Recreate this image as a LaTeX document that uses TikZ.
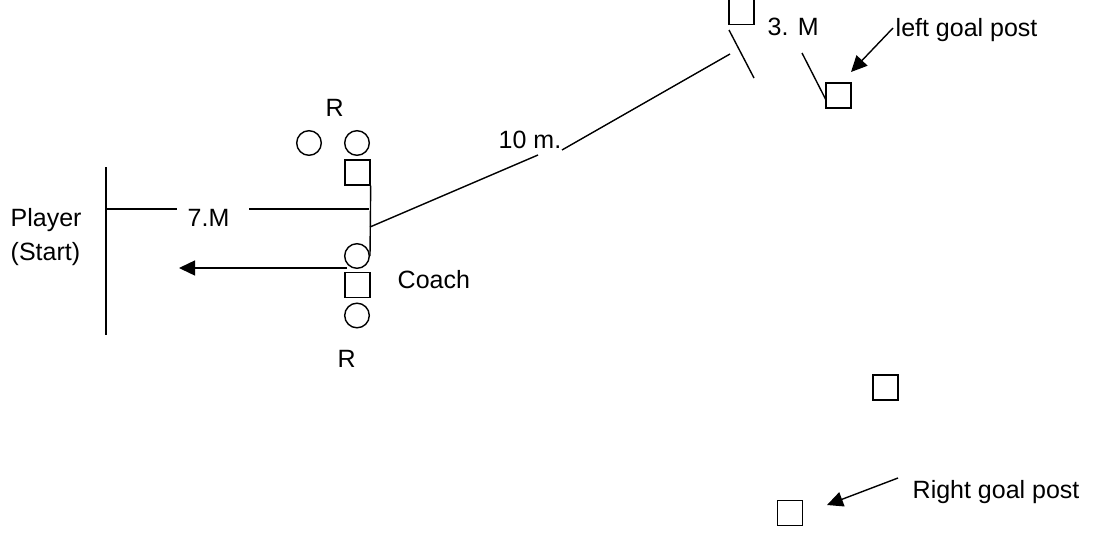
\documentclass[tikz,border=0pt]{standalone}
\usepackage{fontspec}
\setmainfont{Liberation Sans}
\usetikzlibrary{arrows.meta}
\begin{document}
\begin{tikzpicture}[x=1pt,y=-1pt,
  line width=1.4pt,
  cone/.style={draw,rectangle,minimum size=25pt,inner sep=0pt,line width=1.4pt},
  ring/.style={draw,circle,minimum size=24.6pt,inner sep=0pt,line width=1.4pt},
  lbl/.style={inner sep=0pt,anchor=base west,font=\fontsize{25pt}{30pt}\selectfont},
  tip/.style={-{Triangle[length=16pt,width=15pt]}}]
\useasboundingbox (0,0) rectangle (1096,535);

% start line and labels
\coordinate (st1) at (106,167);
\coordinate (st2) at (106,335);
\draw (st1) -- (st2);
\node[lbl] (player) at (10,226) {Player};
\node[lbl] (start) at (10,260) {(Start)};

% cones and rings at the coach station
\node[ring] (r1) at (309,143) {};
\node[ring] (r2) at (357,143) {};
\node[cone] (c1) at (357.5,172.5) {};
\node[ring] (r3) at (357,256) {};
\node[cone] (c2) at (357.5,285) {};
\node[ring] (r4) at (357,315.5) {};
\node[lbl] (rtop) at (325,117) {R};
\node[lbl] (rbot) at (337,367) {R};
\node[lbl] (coach) at (397,288) {Coach};

% 7 m distance
\coordinate (h1) at (106,209);
\coordinate (h2) at (177,209);
\coordinate (h3) at (249,209);
\coordinate (h4) at (369,209);
\draw (h1) -- (h2);
\draw (h3) -- (h4);
\node[lbl] (sevenm) at (187,226) {7.M};
\draw (c1.south east) -- (r3.east);

% run back to start
\coordinate (runend) at (179,268);
\draw[tip] (347,268) -- (runend);

% 10 m distance
\coordinate (d1) at (370,227);
\coordinate (d2) at (538,155);
\coordinate (d3) at (562,150);
\coordinate (d4) at (730,54);
\draw (d1) -- (d2);
\draw (d3) -- (d4);
\node[lbl] (tenm) at (498,148) {10 m.};

% 3 m gap and left goal post
\node[cone] (c3) at (741.5,12) {};
\node[cone] (c4) at (838.5,95.5) {};
\coordinate (g1) at (729,30);
\coordinate (g2) at (754,78);
\coordinate (g3) at (802,53);
\coordinate (g4) at (826,100);
\draw (g1) -- (g2);
\draw (g3) -- (g4);
\node[lbl] (threem) at (767,36) {3. M};
\node[lbl] (leftpost) at (895,37) {left goal post};
\coordinate (la1) at (893,28);
\coordinate (la2) at (851,72);
\draw[tip] (la1) -- (la2);

% remaining cones and right goal post
\node[cone] (c5) at (885.5,387.5) {};
\node[cone] (c6) at (790,513) {};
\node[lbl] (rightpost) at (912,498) {Right goal post};
\coordinate (ra1) at (898,478);
\coordinate (ra2) at (827,505);
\draw[tip] (ra1) -- (ra2);
\end{tikzpicture}
\end{document}
